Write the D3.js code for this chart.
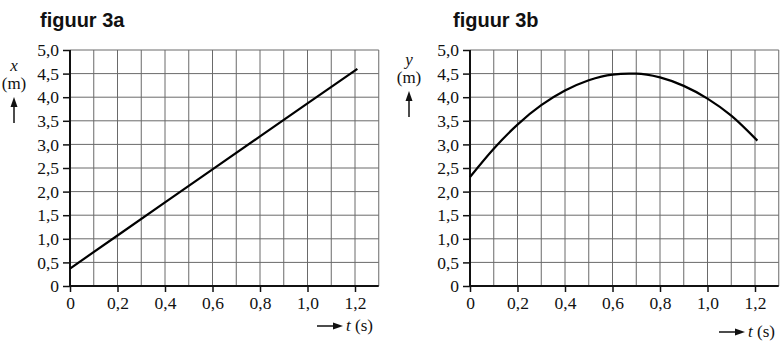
<!DOCTYPE html>
<html>
<head>
<meta charset="utf-8">
<script src="https://cdn.jsdelivr.net/npm/d3@7"></script>
<style>
  body { margin: 0; background: #fff; }
  svg { display: block; }
  .title { font-family: "Liberation Sans", Arial, sans-serif; font-weight: bold; font-size: 20px; fill: #111; }
  .lab { font-family: "Liberation Serif", "Times New Roman", serif; font-size: 17px; fill: #111; }
</style>
</head>
<body>
<div id="chart"></div>
<script>
// figuur 3a : x (m) tegen t (s)
var tA = [0, 0.2, 0.4, 0.6, 0.8, 1.0, 1.21];
var xA = [0.37, 1.07, 1.77, 2.47, 3.17, 3.87, 4.6];

// figuur 3b : y (m) tegen t (s)
var tB = [0, 0.1, 0.2, 0.3, 0.4, 0.5, 0.6, 0.67, 0.7, 0.8, 0.9, 1.0, 1.1, 1.21];
var yB = [2.31, 2.91, 3.42, 3.83, 4.14, 4.36, 4.48, 4.5, 4.5, 4.42, 4.24, 3.97, 3.61, 3.08];

var tTicks = [0, 0.2, 0.4, 0.6, 0.8, 1.0, 1.2];
var vTicks = [0, 0.5, 1, 1.5, 2, 2.5, 3, 3.5, 4, 4.5, 5];

var fmt = function(d) { return d === 0 ? "0" : d3.format(".1f")(d).replace(".", ","); };

var svg = d3.select("#chart").append("svg")
    .attr("width", 782)
    .attr("height", 350);

function arrowUp(g, x, y1, y2) {
    g.append("line").attr("x1", x).attr("x2", x).attr("y1", y1).attr("y2", y2 + 6)
        .attr("stroke", "#111").attr("stroke-width", 1.5);
    g.append("path").attr("d", "M" + (x - 3.5) + "," + (y2 + 10) + "L" + x + "," + y2 + "L" + (x + 3.5) + "," + (y2 + 10) + "Z")
        .attr("fill", "#111");
}
function arrowRight(g, x1, x2, y) {
    g.append("line").attr("x1", x1).attr("x2", x2 - 6).attr("y1", y).attr("y2", y)
        .attr("stroke", "#111").attr("stroke-width", 1.5);
    g.append("path").attr("d", "M" + (x2 - 10) + "," + (y - 3.5) + "L" + x2 + "," + y + "L" + (x2 - 10) + "," + (y + 3.5) + "Z")
        .attr("fill", "#111");
}

function panel(o) {
    var g = svg.append("g");
    var xScale = d3.scaleLinear().domain([0, 1.3]).range([o.left, o.left + 308.75]);
    var yScale = d3.scaleLinear().domain([0, 5]).range([286, 50]);

    // rooster
    g.append("g").selectAll("line").data(d3.range(1, 14).map(function(i) { return i / 10; }))
        .enter().append("line")
        .attr("x1", function(d) { return xScale(d); }).attr("x2", function(d) { return xScale(d); })
        .attr("y1", yScale(0)).attr("y2", yScale(5))
        .attr("stroke", "#6a6a6a").attr("stroke-width", 1);
    g.append("g").selectAll("line").data(vTicks.slice(1))
        .enter().append("line")
        .attr("x1", xScale(0)).attr("x2", xScale(1.3))
        .attr("y1", function(d) { return yScale(d); }).attr("y2", function(d) { return yScale(d); })
        .attr("stroke", "#6a6a6a").attr("stroke-width", 1);

    var xAxis = d3.axisBottom(xScale).tickValues(tTicks).tickFormat(fmt).tickSize(6).tickPadding(5);
    var yAxis = d3.axisLeft(yScale).tickValues(vTicks).tickFormat(fmt).tickSize(7).tickPadding(4);

    var gx = g.append("g").attr("transform", "translate(0,286)").call(xAxis);
    var gy = g.append("g").attr("transform", "translate(" + o.left + ",0)").call(yAxis);
    [gx, gy].forEach(function(a) {
        a.attr("font-family", "'Liberation Serif', 'Times New Roman', serif").attr("font-size", 17.5);
        a.select(".domain").remove();
        a.selectAll(".tick line").attr("stroke", "#111").attr("stroke-width", 1.5);
        a.selectAll(".tick text").attr("fill", "#111");
    });
    g.append("line").attr("x1", xScale(0)).attr("x2", xScale(1.3)).attr("y1", 286).attr("y2", 286)
        .attr("stroke", "#111").attr("stroke-width", 2);
    g.append("line").attr("x1", xScale(0)).attr("x2", xScale(0)).attr("y1", 50).attr("y2", 286)
        .attr("stroke", "#111").attr("stroke-width", 2);

    var line = d3.line()
        .x(function(d) { return xScale(d[0]); })
        .y(function(d) { return yScale(d[1]); })
        .curve(o.curve);
    g.append("path")
        .datum(d3.zip(o.t, o.v))
        .attr("d", line)
        .attr("fill", "none")
        .attr("stroke", "#000")
        .attr("stroke-width", 2.2);

    g.append("text").attr("class", "title").attr("x", o.titleX).attr("y", 27).text(o.title);
    g.append("text").attr("class", "lab").attr("x", o.vx).attr("y", o.vy).attr("text-anchor", "middle")
        .style("font-style", "italic").text(o.vname);
    g.append("text").attr("class", "lab").attr("x", o.vx).attr("y", o.vy + 18).attr("text-anchor", "middle").text("(m)");
    arrowUp(g, o.vx, o.vy + 52, o.vy + 26);

    arrowRight(g, o.tx - 29, o.tx - 3, o.ty - 5);
    var tl = g.append("text").attr("class", "lab").attr("x", o.tx).attr("y", o.ty);
    tl.append("tspan").style("font-style", "italic").text("t");
    tl.append("tspan").text(" (s)");
}

panel({ left: 70, t: tA, v: xA, curve: d3.curveLinear, title: "figuur 3a", titleX: 40,
        vname: "x", vx: 14, vy: 71, tx: 346, ty: 331 });
panel({ left: 470, t: tB, v: yB, curve: d3.curveMonotoneX, title: "figuur 3b", titleX: 453,
        vname: "y", vx: 409, vy: 65, tx: 748, ty: 337 });
</script>
</body>
</html>
